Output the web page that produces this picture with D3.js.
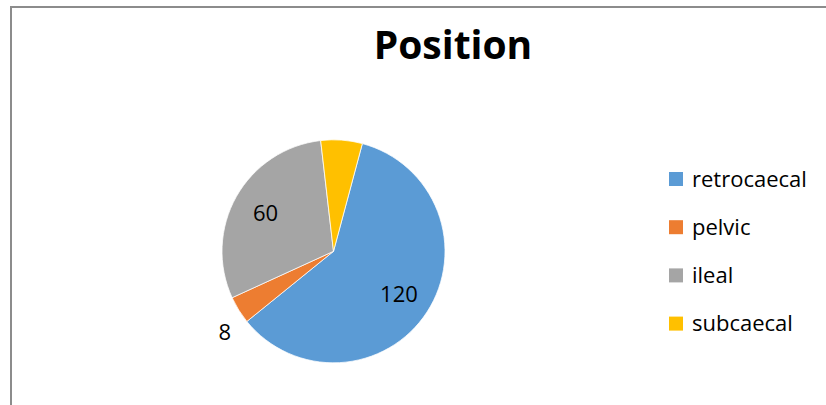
<!DOCTYPE html>
<html>
<head>
<meta charset="utf-8">
<script src="https://cdn.jsdelivr.net/npm/d3@7/dist/d3.min.js"></script>
<style>
  html, body { margin: 0; padding: 0; background: #fff; }
  svg { display: block; }
</style>
</head>
<body>
<svg id="chart" width="826" height="405"></svg>
<script>
// Appendix position counts
const categories = ["retrocaecal", "pelvic", "ileal", "subcaecal"];
const counts = [120, 8, 60, 12];
const labelShown = [true, true, true, false];
const colors = ["#5B9BD5", "#ED7D31", "#A5A5A5", "#FFC000"];
const title = "Position";

const svg = d3.select("#chart");
const W = 826, H = 405;
const font = "'Open Sans', Lato, sans-serif";

// chart frame (runs off the right and bottom edges)
svg.append("rect")
  .attr("x", 11).attr("y", 7)
  .attr("width", W + 20).attr("height", H + 20)
  .attr("fill", "#fff")
  .attr("stroke", "#8c8c8c")
  .attr("stroke-width", 2);

svg.append("text")
  .attr("x", 453).attr("y", 59)
  .attr("text-anchor", "middle")
  .attr("font-family", font)
  .attr("font-weight", "bold")
  .attr("font-size", 39)
  .attr("fill", "#000")
  .text(title);

const cx = 333.5, cy = 251.3, r = 111.5;
const startDeg = 15;

const pie = d3.pie()
  .sort(null)
  .value(d => d.v)
  .startAngle(startDeg * Math.PI / 180)
  .endAngle((startDeg + 360) * Math.PI / 180);

const data = categories.map((c, i) => ({ c, v: counts[i], color: colors[i], show: labelShown[i] }));
const arcs = pie(data);

const arc = d3.arc().innerRadius(0).outerRadius(r);

const g = svg.append("g").attr("transform", `translate(${cx},${cy})`);

g.selectAll("path")
  .data(arcs)
  .join("path")
  .attr("d", arc)
  .attr("fill", d => d.data.color)
  .attr("stroke", "#fff")
  .attr("stroke-width", 0.75);

// data labels: inside for large slices, outside (corner-anchored) for small ones
const inner = d3.arc().innerRadius(r * 0.7).outerRadius(r * 0.7);
const outer = d3.arc().innerRadius(r * 1.08).outerRadius(r * 1.08);
const isSmall = d => d.data.v < 20;

g.selectAll("text.val")
  .data(arcs.filter(d => d.data.show))
  .join("text")
  .attr("class", "val")
  .attr("transform", d => {
    const p = (isSmall(d) ? outer : inner).centroid(d);
    return `translate(${p[0]},${p[1]})`;
  })
  .attr("text-anchor", d => {
    if (!isSmall(d)) return "middle";
    return outer.centroid(d)[0] < 0 ? "end" : "start";
  })
  .attr("dy", d => {
    if (!isSmall(d)) return "0.35em";
    return outer.centroid(d)[1] > 0 ? "1.15em" : "-0.1em";
  })
  .attr("font-family", font)
  .attr("font-size", 22)
  .attr("fill", "#000")
  .text(d => d.data.v);

// legend
const legend = svg.append("g").attr("transform", "translate(669,179)");
const step = 48.2;
const rows = legend.selectAll("g")
  .data(data)
  .join("g")
  .attr("transform", (d, i) => `translate(0,${i * step})`);

rows.append("rect")
  .attr("x", 0).attr("y", -7)
  .attr("width", 14).attr("height", 14)
  .attr("fill", d => d.color);

rows.append("text")
  .attr("x", 23).attr("y", 0)
  .attr("dy", "0.35em")
  .attr("font-family", font)
  .attr("font-size", 22)
  .attr("fill", "#000")
  .text(d => d.c);
</script>
</body>
</html>
